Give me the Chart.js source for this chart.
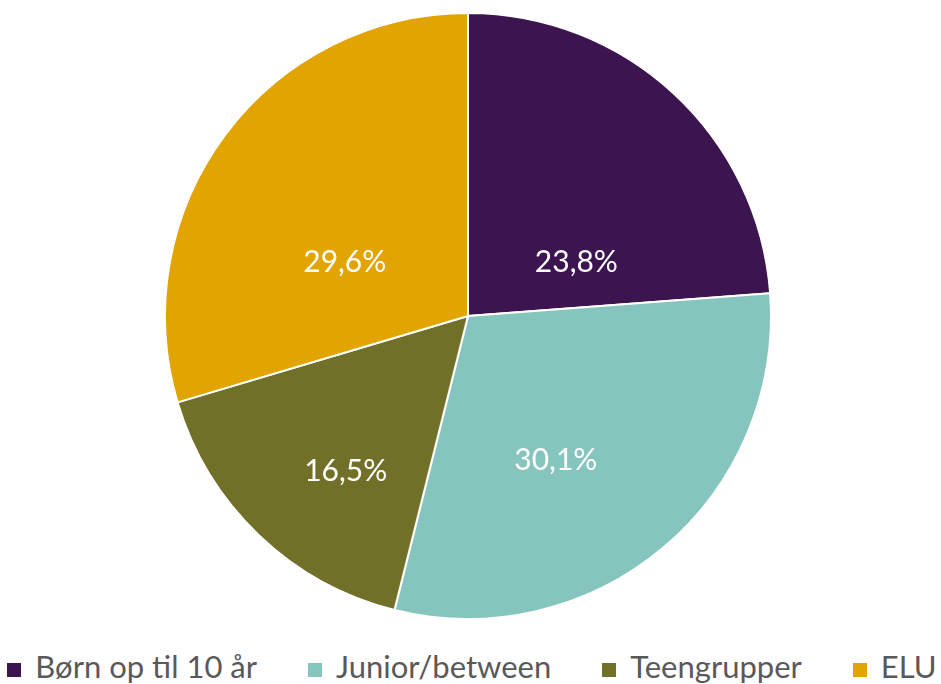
<!DOCTYPE html>
<html>
<head>
<meta charset="utf-8">
<script src="https://cdn.jsdelivr.net/npm/chart.js@4/dist/chart.umd.min.js"></script>
<style>
  html, body { margin: 0; padding: 0; background: #ffffff; }
  #wrap { position: relative; width: 941px; height: 684px; overflow: hidden; }
  #cvbox { position: absolute; left: 0; top: 0; width: 941px; height: 630px; }
  #legend {
    position: absolute; left: 0; top: 651px; width: 944px;
    display: flex; justify-content: center; gap: 51px;
    font-family: Lato, "Open Sans", sans-serif; font-size: 31px; line-height: 31px;
    color: #595959; white-space: nowrap;
  }
  .item { display: flex; align-items: center; }
  .sw { width: 14px; height: 14px; margin-right: 14px; position: relative; top: 3px; }
</style>
</head>
<body>
<div id="wrap">
  <div id="cvbox"><canvas id="c"></canvas></div>
  <div id="legend"></div>
</div>
<script>
// ---- data ----
const categories = ['Børn op til 10 år', 'Junior/between', 'Teengrupper', 'ELU'];
const shares = [23.8, 30.1, 16.5, 29.6];
const sliceColors = ['#3c1450', '#86c5bd', '#717029', '#e1a400'];

// label placement inside each slice: fraction of slice angle, fraction of radius
const labelAngleFrac = [0.74, 0.58, 0.41, 0.38];
const labelRadiusFrac = [0.40, 0.555, 0.65, 0.445];

const fmt = v => v.toFixed(1).replace('.', ',') + '%';

const sliceLabels = {
  id: 'sliceLabels',
  afterDatasetsDraw(chart) {
    const ctx = chart.ctx;
    const meta = chart.getDatasetMeta(0);
    ctx.save();
    ctx.fillStyle = '#ffffff';
    ctx.font = '30px Lato, "Open Sans", sans-serif';
    ctx.textAlign = 'center';
    ctx.textBaseline = 'middle';
    meta.data.forEach((arc, i) => {
      const p = arc.getProps(['x', 'y', 'startAngle', 'endAngle', 'outerRadius'], true);
      const a = p.startAngle + labelAngleFrac[i] * (p.endAngle - p.startAngle);
      const r = labelRadiusFrac[i] * p.outerRadius;
      ctx.fillText(fmt(chart.data.datasets[0].data[i]), p.x + Math.cos(a) * r, p.y + Math.sin(a) * r + 1);
    });
    ctx.restore();
  }
};

const chart = new Chart(document.getElementById('c'), {
  type: 'pie',
  data: {
    labels: categories,
    datasets: [{
      data: shares,
      backgroundColor: sliceColors,
      borderColor: '#ffffff',
      borderWidth: 2
    }]
  },
  options: {
    responsive: true,
    maintainAspectRatio: false,
    animation: false,
    layout: { padding: { top: 12, bottom: 10, left: 0, right: 5 } },
    plugins: {
      legend: { display: false },
      tooltip: { enabled: false }
    }
  },
  plugins: [sliceLabels]
});

// HTML legend built from the chart's own legend items
const lg = document.getElementById('legend');
chart.options.plugins.legend.labels.generateLabels(chart).forEach(item => {
  const d = document.createElement('div');
  d.className = 'item';
  const s = document.createElement('span');
  s.className = 'sw';
  s.style.background = item.fillStyle;
  const t = document.createElement('span');
  t.textContent = item.text;
  d.appendChild(s); d.appendChild(t);
  lg.appendChild(d);
});
</script>
</body>
</html>
